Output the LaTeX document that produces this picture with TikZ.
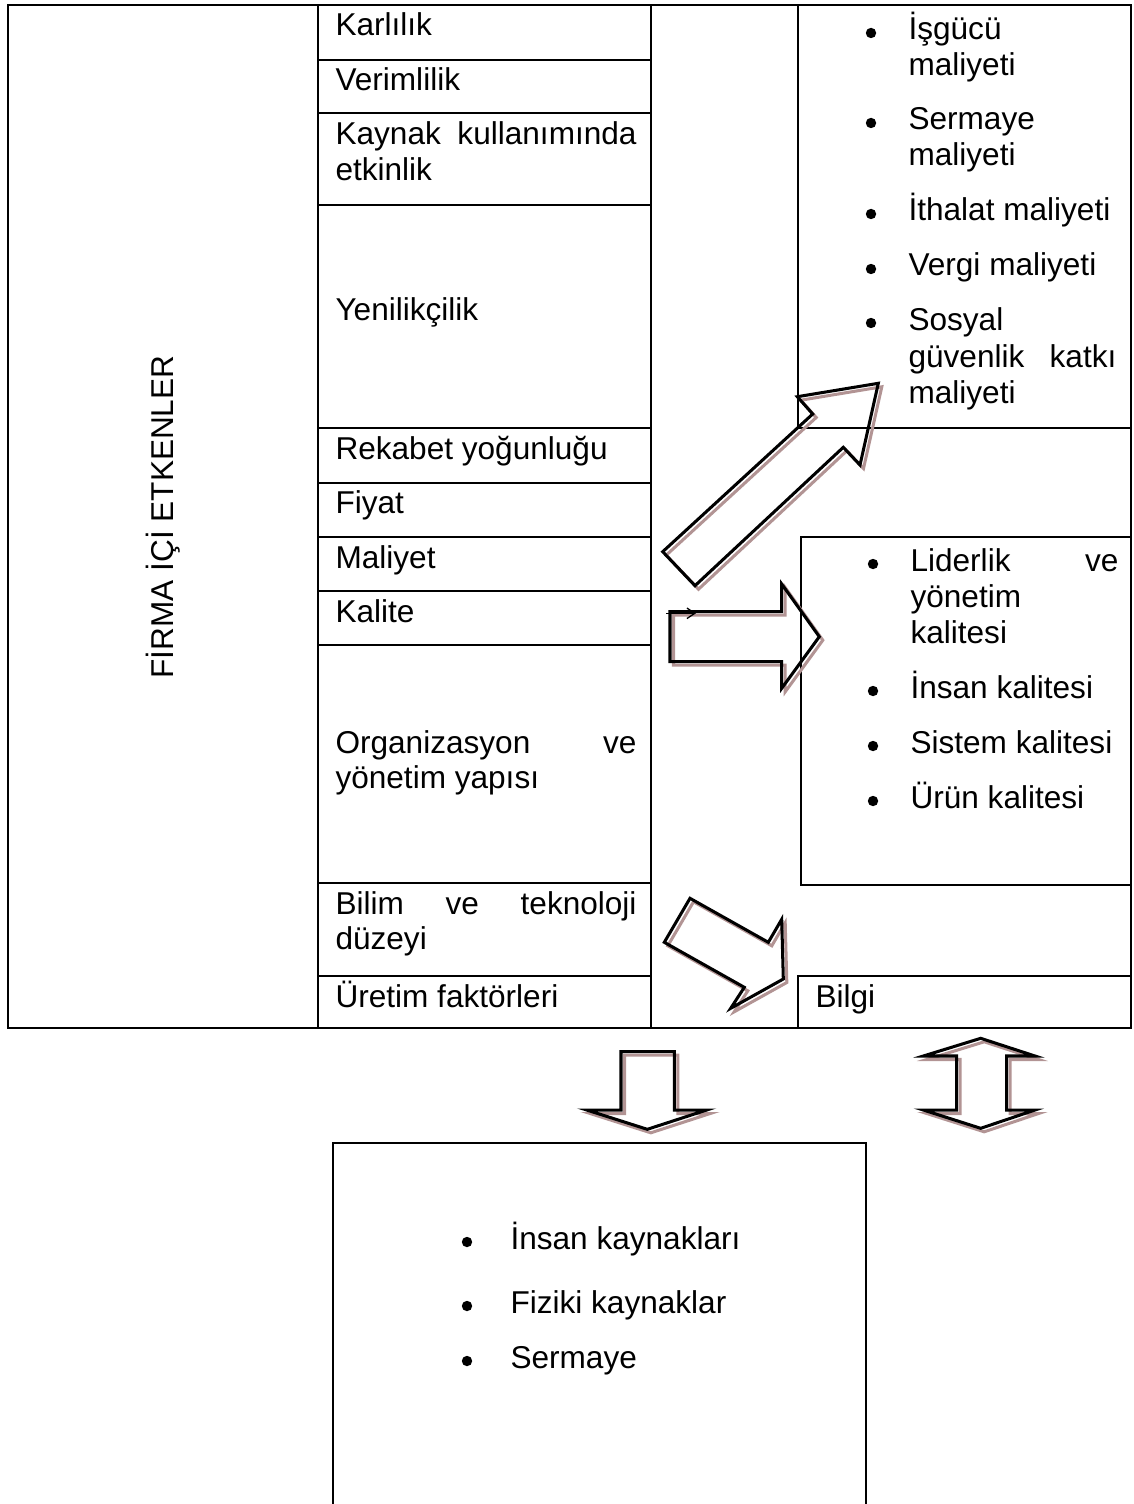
\documentclass[tikz,border=0pt]{standalone}
\usepackage{fontspec}
\setmainfont{Liberation Sans}
\usetikzlibrary{arrows.meta}
\definecolor{shadowc}{RGB}{178,148,148}
\newcommand\jline[2]{\makebox[#1][s]{#2}}
\begin{document}
\begin{tikzpicture}[x=0.38pt,y=-0.38pt,
  rule/.style={line width=0.8pt},
  lbl/.style={anchor=base west, inner sep=0pt, font=\fontsize{12pt}{13.8pt}\selectfont},
  dot/.style={fill=black, draw=none},
  arrowline/.style={line width=1.15pt, line join=miter, miter limit=20},
  arrowshade/.style={draw=shadowc, line width=1.15pt, line join=miter, miter limit=20, shift={(3.5,3.5)}}]
\useasboundingbox (0,0) rectangle (1133,1504);

% ---------- table frame ----------
\draw[rule] (8,5) rectangle (1131,1028);
\draw[rule] (318,5) -- (318,1028);
\draw[rule] (651,5) -- (651,1028);
\foreach \yy in {60,113,205,428,483,537,591,645,883,976}
  \draw[rule] (318,\yy) -- (651,\yy);
% right-hand column cells
\draw[rule] (798,5) -- (798,428) -- (1131,428);
\draw[rule] (801,537) rectangle (1131,885);
\draw[rule] (798,1028) -- (798,976) -- (1131,976);

% ---------- left column ----------
\node[font=\fontsize{12pt}{13.8pt}\selectfont, rotate=90, inner sep=0pt] (firma) at (163,517) {FİRMA İÇİ ETKENLER};

% ---------- middle column ----------
\node[lbl] (karlilik) at (335,36) {Karlılık};
\node[lbl] (verim) at (335,91) {Verimlilik};
\node[lbl] (kaynakA) at (335,145) {\jline{114.4pt}{Kaynak kullanımında}};
\node[lbl] (kaynakB) at (335,181) {etkinlik};
\node[lbl] (yenilik) at (335,321) {Yenilikçilik};
\node[lbl] (rekabet) at (335,459) {Rekabet yoğunluğu};
\node[lbl] (fiyat) at (335,513) {Fiyat};
\node[lbl] (maliyet) at (335,568) {Maliyet};
\node[lbl] (kalite) at (335,622) {Kalite};
\node[lbl] (orgA) at (335,753) {\jline{114.4pt}{Organizasyon\hfill ve}};
\node[lbl] (orgB) at (335,788) {yönetim yapısı};
\node[lbl] (bilimA) at (335,914) {\jline{114.4pt}{Bilim\hfill ve\hfill teknoloji}};
\node[lbl] (bilimB) at (335,949) {düzeyi};
\node[lbl] (uretim) at (335,1007) {Üretim faktörleri};

% ---------- cost items ----------
\foreach \yy in {33,123,214,269,323} \fill[dot] (871,\yy) circle (5.2);
\node[lbl] (isgA) at (908,40) {İşgücü};
\node[lbl] (isgB) at (908,76) {maliyeti};
\node[lbl] (serA) at (908,130) {Sermaye};
\node[lbl] (serB) at (908,166) {maliyeti};
\node[lbl] (ithal) at (908,221) {İthalat maliyeti};
\node[lbl] (vergi) at (908,276) {Vergi maliyeti};
\node[lbl] (sosA) at (908,330) {Sosyal};
\node[lbl] (sosB) at (908,367) {\jline{79pt}{güvenlik\hfill katkı}};
\node[lbl] (sosC) at (908,403) {maliyeti};

% ---------- quality items ----------
\foreach \yy in {564,691,746,801} \fill[dot] (873,\yy) circle (5.2);
\node[lbl] (lidA) at (910,571) {\jline{79pt}{Liderlik\hfill ve}};
\node[lbl] (lidB) at (910,607) {yönetim};
\node[lbl] (lidC) at (910,643) {kalitesi};
\node[lbl] (insan) at (910,698) {İnsan kalitesi};
\node[lbl] (sistem) at (910,753) {Sistem kalitesi};
\node[lbl] (urun) at (910,808) {Ürün kalitesi};

\node[lbl] (bilgi) at (815,1007) {Bilgi};

% ---------- resources box ----------
\draw[rule] (333,1506) -- (333,1143) -- (866,1143) -- (866,1506);
\foreach \yy in {1242,1306,1361} \fill[dot] (467,\yy) circle (5.2);
\node[lbl] (ik) at (510,1249) {İnsan kaynakları};
\node[lbl] (fk) at (510,1313) {Fiziki kaynaklar};
\node[lbl] (sr) at (510,1368) {Sermaye};

% ---------- block arrows (outline with offset shadow) ----------
\newcommand\arrowshape[1]{\draw[arrowshade] #1; \draw[arrowline] #1;}
% diagonal arrow towards the cost items
\arrowshape{(662.7,551.7) -- (812.7,414) -- (797.3,396.7) -- (878.3,383.3) -- (860,465) -- (843.3,447.3) -- (695,585.7) -- cycle}
% arrow towards the quality items
\arrowshape{(670,611.7) -- (781.7,611.7) -- (781.7,584) -- (819.3,636.7) -- (781.7,688.3) -- (781.7,661.7) -- (670,661.7) -- cycle}
% arrow towards Bilgi
\arrowshape{(664.3,942.3) -- (690,898.3) -- (768.3,942.3) -- (781.7,919.3) -- (783.3,979) -- (730.7,1008.3) -- (744.3,987.3) -- cycle}
% downward arrow
\arrowshape{(621,1051.7) -- (674.3,1051.7) -- (674.3,1110) -- (706.7,1110) -- (647.3,1129.3) -- (586.7,1110) -- (621,1110) -- cycle}
% double-headed vertical arrow
\arrowshape{(980.7,1038.3) -- (1035,1056) -- (1006.7,1056) -- (1006.7,1110) -- (1035,1110) -- (980.7,1128.3) -- (923.3,1110) -- (956.7,1110) -- (956.7,1056) -- (923.3,1056) -- cycle}

% small line arrow at the corner of the right arrow
\coordinate (tinyA) at (666,613.3);
\coordinate (tinyB) at (696,613.3);
\draw[line width=0.5pt, -{Straight Barb[length=3pt,width=4pt]}] (tinyA) -- (tinyB);
\end{tikzpicture}
\end{document}
